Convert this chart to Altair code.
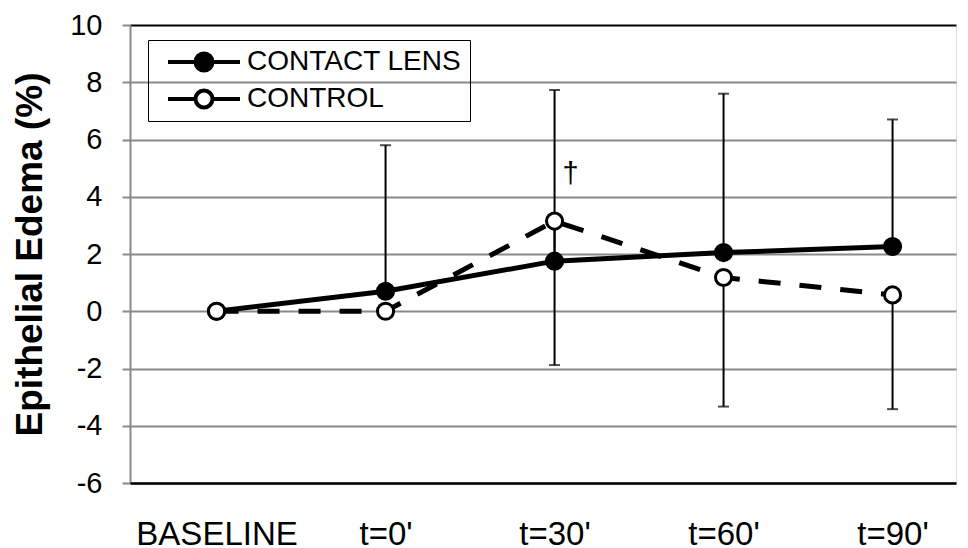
import altair as alt
import pandas as pd

categories = ["BASELINE", "t=0'", "t=30'", "t=60'", "t=90'"]
series_names = ["CONTACT LENS", "CONTROL"]
contact_lens = [0.0, 0.7, 1.75, 2.05, 2.26]
control = [0.0, 0.0, 3.15, 1.18, 0.57]
contact_lens_upper = [None, 5.8, 7.73, 7.6, 6.7]
control_lower = [None, None, -1.88, -3.33, -3.42]
annot_category = ["t=30'"]
annot_value = [4.8]
annot_text = ["\u2020"]
y_ticks = [-6, -4, -2, 0, 2, 4, 6, 8, 10]

FONT = "Liberation Sans"

rows = []
for name, vals in zip(series_names, [contact_lens, control]):
    for c, v in zip(categories, vals):
        rows.append({"category": c, "value": v, "series": name})
long_df = pd.DataFrame(rows)

err_rows = []
for c, m, u in zip(categories, contact_lens, contact_lens_upper):
    if u is not None:
        err_rows.append({"category": c, "value": m, "bound": u})
for c, m, l in zip(categories, control, control_lower):
    if l is not None:
        err_rows.append({"category": c, "value": m, "bound": l})
err_df = pd.DataFrame(err_rows)

annot_df = pd.DataFrame({"category": annot_category, "value": annot_value, "label": annot_text})

x_enc = alt.X(
    "category:N",
    sort=categories,
    scale=alt.Scale(type="point", padding=0.4438, align=0.577),
    axis=alt.Axis(
        title=None, labelAngle=0, labelFontSize=33, labelPadding=35, ticks=False,
        domainColor="black", domainWidth=2.5, grid=False, zindex=1,
        labelColor="black", labelFont=FONT,
    ),
)
y_scale = alt.Scale(domain=[-6, 10], nice=False, zero=False)
y_enc = alt.Y(
    "value:Q",
    scale=y_scale,
    axis=alt.Axis(
        values=y_ticks, title="Epithelial Edema (%)", titleFontSize=37,
        titleFontWeight="bold", titleFont=FONT, titleColor="black", titlePadding=20,
        labelFontSize=29, labelFont=FONT, labelColor="black", labelPadding=20,
        labelExpr="toString(datum.value)",
        tickSize=8, tickColor="#8a8a8a", tickWidth=2, domainColor="#8a8a8a", domainWidth=2,
        gridColor={"expr": "datum.value == 10 ? '#000000' : '#8a8a8a'"}, gridWidth=2,
    ),
)

rules = alt.Chart(err_df).mark_rule(color="black", strokeWidth=2).encode(
    x=x_enc, y=alt.Y("value:Q", scale=y_scale), y2="bound:Q"
)
caps = alt.Chart(err_df).mark_tick(color="black", thickness=2, size=11, orient="horizontal").encode(
    x=x_enc, y=alt.Y("bound:Q", scale=y_scale)
)
line_cl = alt.Chart(long_df).transform_filter(
    alt.datum.series == series_names[0]
).mark_line(color="black", strokeWidth=5).encode(x=x_enc, y=y_enc)
line_ctrl = alt.Chart(long_df).transform_filter(
    alt.datum.series == series_names[1]
).mark_line(color="black", strokeWidth=5, strokeDash=[22, 19]).encode(x=x_enc, y=y_enc)

legend_path = (
    "M-3.6,0H-0.85M0.85,0H3.6"
    "M0.85,0A0.85,0.85 0 1,1 -0.85,0A0.85,0.85 0 1,1 0.85,0Z"
)
points = alt.Chart(long_df).mark_point(
    filled=True, size=260, stroke="black", strokeWidth=3, opacity=1
).encode(
    x=x_enc, y=alt.Y("value:Q", scale=y_scale),
    fill=alt.Fill(
        "series:N",
        scale=alt.Scale(domain=series_names, range=["black", "white"]),
        legend=alt.Legend(
            title=None, orient="none", legendX=18, legendY=15,
            symbolType=legend_path, symbolSize=400, symbolStrokeWidth=4,
            symbolStrokeColor="black", symbolOffset=34, labelOffset=29,
            labelFontSize=28, labelFont=FONT, labelColor="black", labelLimit=400,
            padding=8, rowPadding=9, clipHeight=28, strokeColor="black",
        ),
    ),
)
text = alt.Chart(annot_df).mark_text(
    fontSize=29, font=FONT, color="black", dx=16, baseline="middle"
).encode(x=x_enc, y=alt.Y("value:Q", scale=y_scale), text="label:N")

chart = alt.layer(rules, caps, line_cl, line_ctrl, points, text).properties(
    width=826, height=458,
    padding={"left": 122, "top": 17, "right": 4, "bottom": 62},
    autosize="none",
).configure_view(stroke=None).configure(font=FONT)

chart.save("out.html", embed_options={"renderer": "svg", "actions": False})
